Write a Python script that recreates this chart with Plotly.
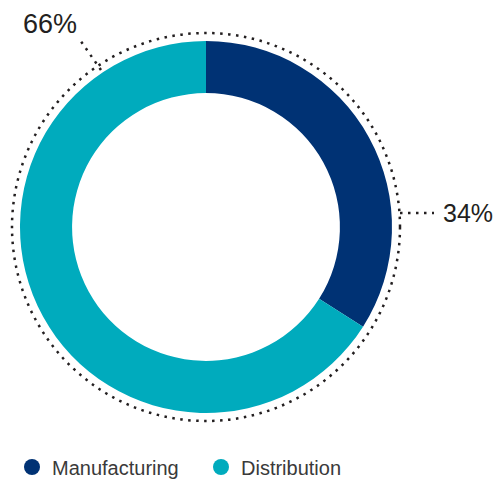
import plotly.graph_objects as go

categories = ["Manufacturing", "Distribution"]
values = [34, 66]
colors = ["#003274", "#00abbd"]
label_texts = ["34%", "66%"]

W, H = 497, 479

def px(x):
    return x / W

def py(y):
    return (H - y) / H

fig = go.Figure()

fig.add_trace(go.Pie(
    labels=categories,
    values=values,
    hole=0.72,
    sort=False,
    direction="clockwise",
    rotation=0,
    marker=dict(colors=colors, line=dict(width=0)),
    textinfo="none",
    hoverinfo="label+percent",
    showlegend=False,
    domain=dict(x=[px(20), px(392)], y=[py(413), py(41)]),
))

for name, col in zip(categories, colors):
    fig.add_trace(go.Scatter(
        x=[None], y=[None], mode="markers", name=name,
        marker=dict(symbol="circle", size=17, color=col),
        showlegend=True,
    ))

dot_line = dict(color="#231f20", width=2.5, dash="2.5px,5.5px")

shapes = [
    dict(type="circle", xref="paper", yref="paper",
         x0=px(12), x1=px(400), y0=py(421), y1=py(33), line=dot_line),
    dict(type="line", xref="paper", yref="paper",
         x0=px(101), y0=py(70), x1=px(80), y1=py(40), line=dot_line),
    dict(type="line", xref="paper", yref="paper",
         x0=px(400), y0=py(213), x1=px(434), y1=py(213), line=dot_line),
]

annotations = [
    dict(text=label_texts[1], x=px(50), y=py(24), xref="paper", yref="paper",
         showarrow=False, xanchor="center", yanchor="middle",
         font=dict(family="Liberation Sans, Arial, sans-serif", size=27, color="#231f20")),
    dict(text=label_texts[0], x=px(468), y=py(213), xref="paper", yref="paper",
         showarrow=False, xanchor="center", yanchor="middle",
         font=dict(family="Liberation Sans, Arial, sans-serif", size=25, color="#231f20")),
]

fig.update_layout(
    width=W, height=H,
    margin=dict(l=0, r=0, t=0, b=0, autoexpand=False),
    paper_bgcolor="white", plot_bgcolor="white",
    xaxis=dict(visible=False), yaxis=dict(visible=False),
    shapes=shapes,
    annotations=annotations,
    showlegend=True,
    legend=dict(orientation="h", xref="container", yref="container",
                x=px(12), y=py(467), xanchor="left", yanchor="middle",
                entrywidth=144,
                font=dict(family="Liberation Sans, Arial, sans-serif", size=20, color="#3a3a3a"),
                bgcolor="rgba(0,0,0,0)"),
)

fig.write_html("out.html", config={"displayModeBar": False},
               post_script="document.body.style.margin='0';")
